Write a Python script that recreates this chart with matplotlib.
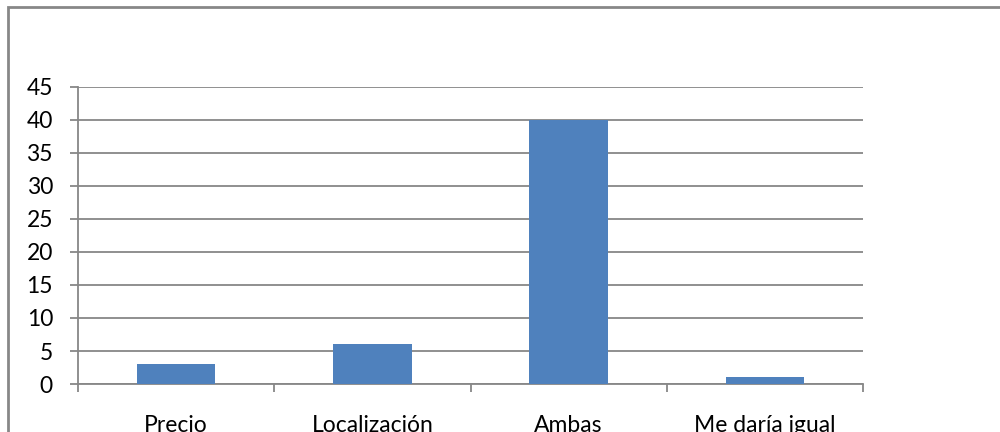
import numpy as np
import matplotlib.pyplot as plt
from matplotlib.patches import Rectangle

categorias = ['Precio', 'Localización', 'Ambas', 'Me daría igual']
valores = [3, 6, 40, 1]
yticks = [0, 5, 10, 15, 20, 25, 30, 35, 40, 45]

plt.rcParams['font.family'] = ['Lato', 'DejaVu Sans']

fig = plt.figure(figsize=(10, 4.32), dpi=100)
ax = fig.add_axes([0.078, 0.111, 0.785, 0.688])

gris = '#878787'
x = np.arange(len(categorias))
ax.bar(x, valores, width=0.4, color='#4F81BD', zorder=3)

ax.set_xlim(-0.5, len(categorias) - 0.5)
ax.set_ylim(0, 45)
ax.set_yticks(yticks)
ax.yaxis.grid(True, color=gris, linewidth=1.3, zorder=0)

# ticks entre categorias
ax.set_xticks(np.arange(-0.5, len(categorias)), minor=False)
ax.set_xticklabels([])
ax.set_xticks(x, minor=True)
ax.set_xticklabels(categorias, minor=True, fontsize=16.5)
ax.tick_params(axis='x', which='minor', length=0, pad=22)
ax.tick_params(axis='x', which='major', length=6, color=gris, width=1.3)
ax.tick_params(axis='y', length=6, color=gris, width=1.3, labelsize=16.5, pad=12)

for s in ['top', 'right']:
    ax.spines[s].set_visible(False)
ax.spines['left'].set_color(gris)
ax.spines['bottom'].set_color(gris)
ax.spines['left'].set_linewidth(1.3)
ax.spines['bottom'].set_linewidth(1.3)

# borde del grafico
fig.patches.append(Rectangle((0.008, -0.1), 1.2, 1.1 - 0.016, transform=fig.transFigure,
                             fill=False, edgecolor=gris, linewidth=2))

fig.savefig('out.png', dpi=100)
